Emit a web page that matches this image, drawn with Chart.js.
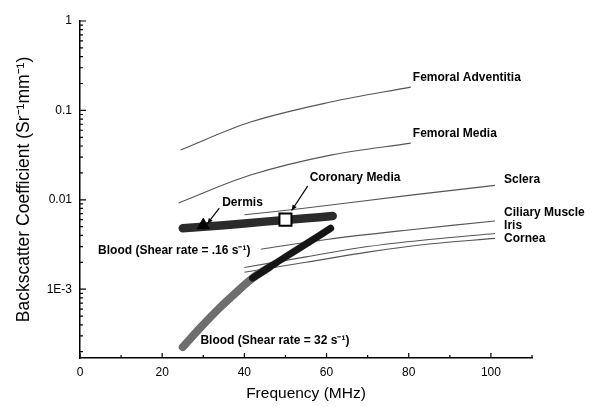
<!DOCTYPE html>
<html>
<head>
<meta charset="utf-8">
<script src="https://cdn.jsdelivr.net/npm/chart.js@4.4.0/dist/chart.umd.min.js"></script>
<style>
  body { margin: 0; background: #fff; }
  #wrap { width: 595px; height: 407px; }
</style>
</head>
<body>
<div id="wrap"><canvas id="backscatterChart" width="595" height="407"></canvas></div>
<script>
// 周波数 (MHz) と後方散乱係数
let advFreq = [24.5, 41.5, 61, 80.5];
let advValues = [0.036, 0.074, 0.124, 0.182];

let mediaFreq = [24, 41.5, 61, 80.5];
let mediaValues = [0.0092, 0.0189, 0.0316, 0.043];

let scleraFreq = [40, 54, 80, 101];
let scleraValues = [0.0068, 0.0080, 0.0112, 0.0145];

let ciliaryFreq = [44, 60, 80, 101];
let ciliaryValues = [0.0028, 0.0036, 0.0046, 0.0058];

let irisFreq = [40, 55, 70, 85, 101];
let irisValues = [0.00175, 0.0023, 0.0030, 0.0036, 0.0042];

let corneaFreq = [40, 55, 70, 85, 101];
let corneaValues = [0.00155, 0.0020, 0.0026, 0.0032, 0.0037];

let dermisFreq = [25, 35, 45, 55, 61.5];
let dermisValues = [0.0048, 0.0052, 0.0057, 0.0062, 0.0066];

let blood32Freq = [25, 29.5, 34, 38, 42, 46];
let blood32Values = [0.000225, 0.00038, 0.00062, 0.00092, 0.00133, 0.00175];

let blood016Freq = [42, 46, 50, 55, 61];
let blood016Values = [0.00133, 0.00175, 0.0023, 0.0032, 0.0048];

// マーカー (Dermis の三角, Coronary Media の四角)
let dermisPoint = [30, 0.0052];
let coronaryPoint = [50, 0.0060];

// 目盛り
let xTickValues = [0, 20, 40, 60, 80, 100];
let xMinorValues = [10, 30, 50, 70, 90, 110];
let yLabelValues = [1, 0.1, 0.01, 0.001];
let yLabelTexts = ['1', '0.1', '0.01', '1E-3'];

// 注記ラベル
let notes = [
    { text: 'Femoral Adventitia', x: 81, y: 0.23 },
    { text: 'Femoral Media', x: 81, y: 0.0543 },
    { text: 'Coronary Media', x: 55.9, y: 0.0175 },
    { text: 'Sclera', x: 103.2, y: 0.0166 },
    { text: 'Dermis', x: 34.6, y: 0.0094 },
    { text: 'Ciliary Muscle', x: 103.2, y: 0.00726 },
    { text: 'Iris', x: 103.2, y: 0.0052 },
    { text: 'Cornea', x: 103.2, y: 0.00372 },
    { text: 'Blood (Shear rate = .16 s\u207B\u00B9)', x: 4.4, y: 0.00273 },
    { text: 'Blood (Shear rate = 32 s\u207B\u00B9)', x: 29.3, y: 0.000268 }
];
let arrows = [
    { from: [33.9, 0.00805], to: [31, 0.0054] },
    { from: [55.4, 0.0142], to: [51.5, 0.0076] }
];

function toPoints(xs, ys) {
    return xs.map((x, i) => ({ x: x, y: ys[i] }));
}

function thinLine(xs, ys) {
    return {
        data: toPoints(xs, ys),
        borderColor: '#555',
        borderWidth: 1.1,
        pointRadius: 0,
        tension: 0.35,
        order: 5
    };
}

function thickLine(xs, ys, color, width) {
    return {
        data: toPoints(xs, ys),
        borderColor: color,
        borderWidth: width,
        borderCapStyle: 'round',
        pointRadius: 0,
        tension: 0.35,
        order: 3
    };
}

// 軸の内側向き目盛りと注記を描くプラグイン
let decorPlugin = {
    id: 'decor',
    afterDatasetsDraw(chart) {
        let ctx = chart.ctx;
        let xs = chart.scales.x;
        let ys = chart.scales.y;
        let area = chart.chartArea;

        ctx.save();
        ctx.strokeStyle = '#000';
        ctx.lineWidth = 1.2;
        ctx.beginPath();
        xTickValues.forEach(v => {
            let px = xs.getPixelForValue(v);
            ctx.moveTo(px, area.bottom);
            ctx.lineTo(px, area.bottom - 5);
        });
        xMinorValues.forEach(v => {
            let px = xs.getPixelForValue(v);
            ctx.moveTo(px, area.bottom);
            ctx.lineTo(px, area.bottom - 3);
        });
        for (let e = -4; e <= 0; e++) {
            for (let m = 1; m <= 9; m++) {
                let v = m * Math.pow(10, e);
                if (v < ys.min || v > ys.max) continue;
                let py = ys.getPixelForValue(v);
                ctx.moveTo(area.left, py);
                ctx.lineTo(area.left + (m === 1 ? 6 : 3), py);
            }
        }
        ctx.stroke();

        // 矢印
        ctx.lineWidth = 1.2;
        ctx.fillStyle = '#000';
        arrows.forEach(a => {
            let x1 = xs.getPixelForValue(a.from[0]), y1 = ys.getPixelForValue(a.from[1]);
            let x2 = xs.getPixelForValue(a.to[0]), y2 = ys.getPixelForValue(a.to[1]);
            let ang = Math.atan2(y2 - y1, x2 - x1);
            ctx.beginPath();
            ctx.moveTo(x1, y1);
            ctx.lineTo(x2, y2);
            ctx.stroke();
            ctx.beginPath();
            ctx.moveTo(x2, y2);
            ctx.lineTo(x2 - 6 * Math.cos(ang - 0.4), y2 - 6 * Math.sin(ang - 0.4));
            ctx.lineTo(x2 - 6 * Math.cos(ang + 0.4), y2 - 6 * Math.sin(ang + 0.4));
            ctx.closePath();
            ctx.fill();
        });

        // 注記テキスト
        ctx.font = 'bold 12px "Liberation Sans", Arial, sans-serif';
        ctx.textAlign = 'left';
        ctx.textBaseline = 'middle';
        notes.forEach(n => {
            ctx.fillText(n.text, xs.getPixelForValue(n.x), ys.getPixelForValue(n.y));
        });
        ctx.restore();
    }
};

let ctx = document.getElementById('backscatterChart').getContext('2d');
let chart = new Chart(ctx, {
    type: 'line',
    data: {
        datasets: [
            {
                data: [{ x: coronaryPoint[0], y: coronaryPoint[1] }],
                showLine: false,
                pointStyle: 'rect',
                pointRadius: 8.5,
                pointBackgroundColor: '#fff',
                pointBorderColor: '#000',
                pointBorderWidth: 2,
                order: 0
            },
            {
                data: [{ x: dermisPoint[0], y: dermisPoint[1] }],
                showLine: false,
                pointStyle: 'triangle',
                pointRadius: 7,
                pointBackgroundColor: '#000',
                pointBorderColor: '#000',
                order: 1
            },
            thinLine(advFreq, advValues),
            thinLine(mediaFreq, mediaValues),
            thinLine(scleraFreq, scleraValues),
            thinLine(ciliaryFreq, ciliaryValues),
            thinLine(irisFreq, irisValues),
            thinLine(corneaFreq, corneaValues),
            thickLine(dermisFreq, dermisValues, '#2b2b2b', 8.5),
            thickLine(blood016Freq, blood016Values, '#151515', 7),
            thickLine(blood32Freq, blood32Values, '#6e6e6e', 8)
        ]
    },
    options: {
        responsive: false,
        animation: false,
        layout: { padding: { top: 21, right: 63, left: 0, bottom: 0 } },
        scales: {
            x: {
                type: 'linear',
                min: 0,
                max: 110,
                grid: { display: false, drawTicks: false },
                border: { display: true, color: '#000', width: 1.5 },
                afterBuildTicks: scale => { scale.ticks = xTickValues.map(v => ({ value: v })); },
                afterFit: scale => { scale.height = 49; },
                ticks: {
                    color: '#000',
                    padding: 7,
                    maxRotation: 0,
                    font: { family: '"Liberation Sans", Arial, sans-serif', size: 12 }
                },
                title: {
                    display: true,
                    text: 'Frequency (MHz)',
                    color: '#000',
                    padding: { top: 10 },
                    font: { family: '"Liberation Sans", Arial, sans-serif', size: 15.5 }
                }
            },
            y: {
                type: 'logarithmic',
                min: 0.00017,
                max: 1,
                grid: { display: false, drawTicks: false },
                border: { display: true, color: '#000', width: 1.5 },
                afterBuildTicks: scale => { scale.ticks = yLabelValues.map(v => ({ value: v })); },
                afterFit: scale => { scale.width = 80; },
                ticks: {
                    color: '#000',
                    padding: 8,
                    font: { family: '"Liberation Sans", Arial, sans-serif', size: 12 },
                    callback: value => {
                        let i = yLabelValues.findIndex(v => Math.abs(v - value) / v < 1e-6);
                        return i >= 0 ? yLabelTexts[i] : '';
                    }
                },
                title: {
                    display: true,
                    text: 'Backscatter Coefficient (Sr\u207B\u00B9mm\u207B\u00B9)',
                    color: '#000',
                    padding: { top: 14, bottom: 0 },
                    font: { family: '"Liberation Sans", Arial, sans-serif', size: 17.5 }
                }
            }
        },
        plugins: {
            legend: { display: false },
            tooltip: { enabled: false }
        }
    },
    plugins: [decorPlugin]
});
</script>
</body>
</html>
